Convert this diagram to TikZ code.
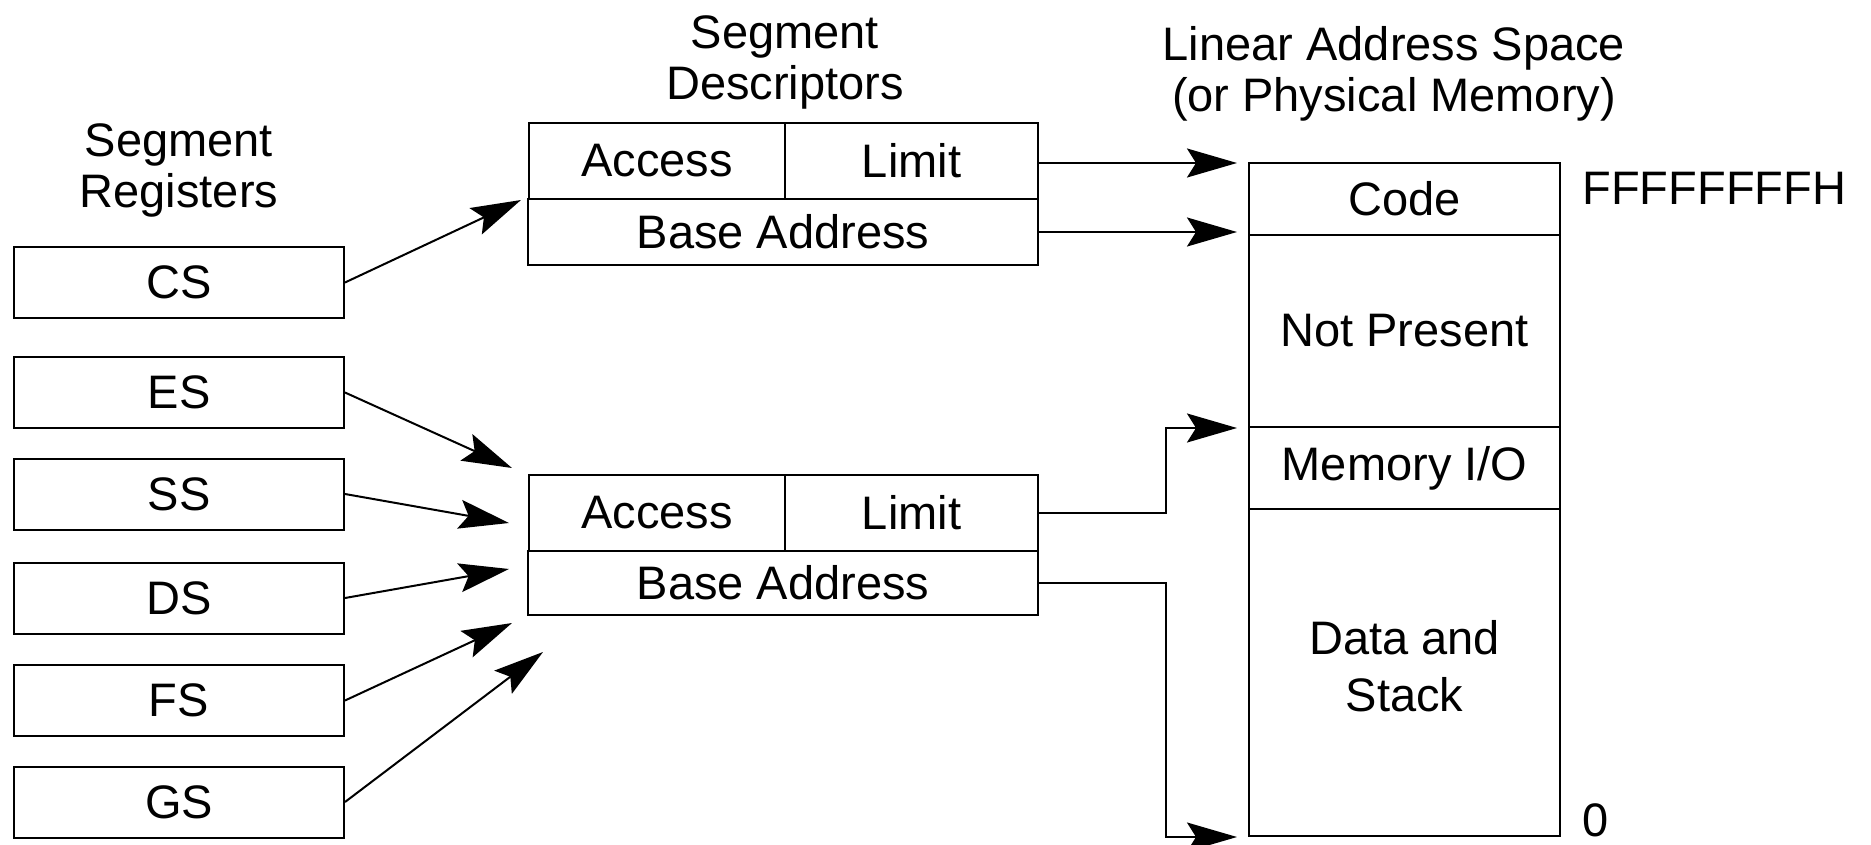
\documentclass[tikz,border=0pt]{standalone}
\usepackage{fontspec}
\setmainfont{Liberation Sans}
\usetikzlibrary{arrows.meta}
\tikzstyle{Reg}=[draw, line width=2pt, minimum width=330pt, minimum height=71pt, inner sep=0pt]
\tikzstyle{Cell}=[draw, line width=2pt, inner sep=0pt]
\tikzstyle{Title}=[align=center]
\tikzstyle{Line}=[-{Stealth[length=50pt,width=29pt,inset=9pt]}, line width=2pt]

\begin{document}
\begin{tikzpicture}[x=1pt, y=-1pt, font=\fontsize{47}{51}\selectfont]
    \useasboundingbox (0,0) rectangle (1871,845);

    \node[Title] (trg) at (179,170) {Segment\\Registers};
    \node[Title] (tds) at (785,62) {Segment\\Descriptors};
    \node[Title] (tls) at (1394,74) {Linear Address Space\\(or Physical Memory)};

    \node[Reg] (cs) at (179,282.5) {CS};
    \node[Reg] (es) at (179,392.5) {ES};
    \node[Reg] (ss) at (179,494) {SS};
    \node[Reg] (ds) at (179,598) {DS};
    \node[Reg] (fs) at (179,700.5) {FS};
    \node[Reg] (gs) at (179,802) {GS};

    \node[Cell, minimum width=256.5pt, minimum height=76pt] (acc1) at (657,161) {Access};
    \node[Cell, minimum width=253pt, minimum height=76pt] (lim1) at (911.5,161) {Limit};
    \node[Cell, minimum width=509.5pt, minimum height=66pt] (bas1) at (783,232) {Base Address};

    \node[Cell, minimum width=256.5pt, minimum height=76pt] (acc2) at (657,513) {Access};
    \node[Cell, minimum width=253pt, minimum height=76pt] (lim2) at (911.5,513) {Limit};
    \node[Cell, minimum width=509.5pt, minimum height=64pt] (bas2) at (783,583) {Base Address};

    \node[Cell, minimum width=311pt, minimum height=72pt] (cod) at (1404.5,199) {Code};
    \node[Cell, minimum width=311pt, minimum height=192pt] (npr) at (1404.5,331) {Not Present};
    \node[Cell, minimum width=311pt, minimum height=82pt] (mio) at (1404.5,468) {Memory I/O};
    \node[Cell, minimum width=311pt, minimum height=327pt] (dat) at (1404.5,672.5) {};
    \node[Title] (dst) at (1404.5,666) {Data and\\[6pt]Stack};

    \node[anchor=west] (top) at (1579,188) {FFFFFFFFH};
    \node[anchor=west] (bot) at (1579,820) {0};

    \coordinate (in1) at (521,200);
    \coordinate (in2) at (512,468);
    \coordinate (in3) at (509,523);
    \coordinate (in4) at (509,569);
    \coordinate (in5) at (512,623);
    \coordinate (in6) at (543,652);

    \draw[Line] (cs.east) to (in1);
    \draw[Line] (es.east) to (in2);
    \draw[Line] (ss.east) to (in3);
    \draw[Line] (ds.east) to (in4);
    \draw[Line] (fs.east) to (in5);
    \draw[Line] (gs.east) to (in6);

    \draw[Line, shorten >=11pt] ([yshift=-2pt]lim1.east) to ([yshift=-2pt]lim1.east -| cod.west);
    \draw[Line, shorten >=11pt] (bas1.east) to (bas1.east -| cod.west);

    \draw[Line, shorten >=11pt] (lim2.east) -- ++(127,0) |- (npr.south west);
    \draw[Line, shorten >=11pt] (bas2.east) -- ++(127,0) |- (dat.south west);

\end{tikzpicture}
\end{document}
